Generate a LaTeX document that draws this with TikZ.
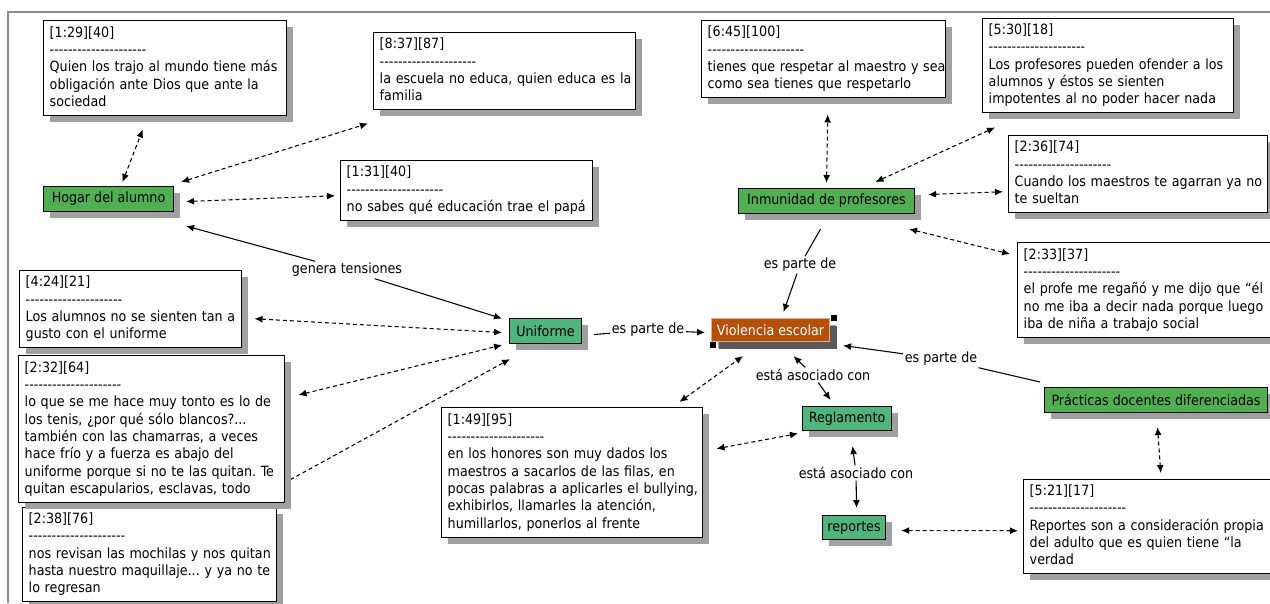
\documentclass[tikz,border=0pt]{standalone}
\usepackage{fontspec}
\newfontfamily\mapfont{DejaVu Sans Condensed}
\usetikzlibrary{arrows.meta,shadows,calc}
\frenchspacing

\newdimen\pxu \pxu=0.75pt
\definecolor{conceptgreen}{RGB}{80,175,80}
\definecolor{linkgreen}{RGB}{80,180,125}
\definecolor{violorange}{RGB}{180,80,10}
\definecolor{shadowgray}{RGB}{160,160,160}
\definecolor{darkshadow}{RGB}{90,90,90}
\definecolor{framegray}{RGB}{140,140,140}

% separator line under each quotation reference
\newcommand\qdash{-\kern0pt}
\newcommand\qrule{\qdash\qdash\qdash\qdash\qdash\qdash\qdash\qdash\qdash\qdash\qdash\qdash\qdash\qdash\qdash\qdash\qdash\qdash\qdash\qdash\qdash}
\newcommand\quotelines[1]{\begin{tabular}{@{}l@{}}#1\end{tabular}}

\pgfdeclarelayer{links}
\pgfsetlayers{links,main}

\tikzset{
  every node/.style={font=\mapfont\fontsize{10.6}{13}\selectfont},
  quote/.style={draw=black, line width=1.1pt, fill=white, anchor=north west,
    align=left, inner xsep=4.5pt, inner ysep=0pt,
    drop shadow={shadow xshift=4.5pt, shadow yshift=-4.5pt, fill=shadowgray, opacity=1}},
  concept/.style={draw=black, line width=0.8pt, anchor=north west, inner sep=0pt,
    drop shadow={shadow xshift=4.5pt, shadow yshift=-4.5pt, fill=shadowgray, opacity=1}},
  linkphrase/.style={inner sep=1.2pt},
  plainrel/.style={line width=0.8pt},
  rel/.style={line width=0.8pt, -{Latex[length=6pt,width=5.2pt]}},
  assoc/.style={line width=0.8pt, dash pattern=on 3pt off 2.25pt,
    {Latex[length=6pt,width=5.2pt]}-{Latex[length=6pt,width=5.2pt]}},
}

\begin{document}
\begin{tikzpicture}[x=0.75pt,y=-0.75pt]
\useasboundingbox (0,0) rectangle (1270,603);
\clip (0,0) rectangle (1270,603);

% window frame
\draw[framegray, line width=1.5pt] (8,603) -- (8,12) -- (1270,12);

% quotations
\node[quote, text width=173.25pt, minimum width=182.25pt, minimum height=71.25pt] (c129) at (43,20)
  {\quotelines{[1:29][40]\\ \qrule\\ Quien los trajo al mundo tiene más\\ obligación ante Dios que ante la\\ sociedad}};
\node[quote, text width=187.5pt, minimum width=196.5pt, minimum height=57.75pt] (c837) at (373,32)
  {\quotelines{[8:37][87]\\ \qrule\\ la escuela no educa, quien educa es la\\ familia}};
\node[quote, text width=180pt, minimum width=189pt, minimum height=45pt] (c131) at (340,160)
  {\quotelines{[1:31][40]\\ \qrule\\ no sabes qué educación trae el papá}};
\node[quote, text width=174pt, minimum width=183pt, minimum height=57.75pt] (c645) at (701,20)
  {\quotelines{[6:45][100]\\ \qrule\\ tienes que respetar al maestro y sea\\ como sea tienes que respetarlo}};
\node[quote, text width=179.25pt, minimum width=188.25pt, minimum height=70.5pt] (c530) at (982,18)
  {\quotelines{[5:30][18]\\ \qrule\\ Los profesores pueden ofender a los\\ alumnos y éstos se sienten\\ impotentes al no poder hacer nada}};
\node[quote, text width=185.25pt, minimum width=194.25pt, minimum height=57.75pt] (c236) at (1008,135)
  {\quotelines{[2:36][74]\\ \qrule\\ Cuando los maestros te agarran ya no\\ te sueltan}};
\node[quote, text width=186pt, minimum width=195pt, minimum height=71.25pt] (c233) at (1017,242)
  {\quotelines{[2:33][37]\\ \qrule\\ el profe me regañó y me dijo que “él\\ no me iba a decir nada porque luego\\ iba de niña a trabajo social}};
\node[quote, text width=187.5pt, minimum width=196.5pt, minimum height=70.5pt] (c521) at (1023,479)
  {\quotelines{[5:21][17]\\ \qrule\\ Reportes son a consideración propia\\ del adulto que es quien tiene “la\\ verdad}};
\node[quote, text width=186.75pt, minimum width=195.75pt, minimum height=97.5pt] (c149) at (441,407)
  {\quotelines{[1:49][95]\\ \qrule\\ en los honores son muy dados los\\ maestros a sacarlos de las filas, en\\ pocas palabras a aplicarles el bullying,\\ exhibirlos, llamarles la atención,\\ humillarlos, ponerlos al frente}};
\node[quote, text width=157.5pt, minimum width=166.5pt, minimum height=57.75pt] (c424) at (19,270)
  {\quotelines{[4:24][21]\\ \qrule\\ Los alumnos no se sienten tan a\\ gusto con el uniforme}};
\node[quote, text width=181.5pt, minimum width=190.5pt, minimum height=70.5pt] (c238) at (22,507)
  {\quotelines{[2:38][76]\\ \qrule\\ nos revisan las mochilas y nos quitan\\ hasta nuestro maquillaje... y ya no te\\ lo regresan}};
\node[quote, text width=190.5pt, minimum width=199.5pt, minimum height=110.25pt] (c232) at (18,355)
  {\quotelines{[2:32][64]\\ \qrule\\ lo que se me hace muy tonto es lo de\\ los tenis, ¿por qué sólo blancos?...\\ también con las chamarras, a veces\\ hace frío y a fuerza es abajo del\\ uniforme porque si no te las quitan. Te\\ quitan escapularios, esclavas, todo}};

% concepts
\node[concept, fill=conceptgreen, minimum width=97.5pt, minimum height=18.75pt] (hogar) at (43,186) {Hogar del alumno};
\node[concept, fill=linkgreen, minimum width=54pt, minimum height=18.75pt] (uniforme) at (509,318) {Uniforme};
\node[concept, fill=violorange, draw=violorange!45!white, text=white, minimum width=88.5pt, minimum height=17.25pt,
  drop shadow={shadow xshift=5.25pt, shadow yshift=-5.25pt, fill=darkshadow, opacity=1}] (violencia) at (711,318) {Violencia escolar};
\node[concept, fill=conceptgreen, minimum width=132pt, minimum height=18.75pt] (inmunidad) at (738,188) {Inmunidad de profesores};
\node[concept, fill=conceptgreen, minimum width=167.25pt, minimum height=18.75pt] (practicas) at (1044,387) {Prácticas docentes diferenciadas};
\node[concept, fill=linkgreen, minimum width=66.75pt, minimum height=18pt] (reglamento) at (802,406) {Reglamento};
\node[concept, fill=linkgreen, minimum width=47.25pt, minimum height=18pt] (reportes) at (822,515) {reportes};

% selection handles on the focused concept
\fill[black] ($(violencia.north east)+(1,-3)$) rectangle +(6,6);
\fill[black] ($(violencia.south west)+(-1,0)$) rectangle +(6,6);

% linking phrases
\node[linkphrase] (gt) at (347,270) {genera tensiones};
\node[linkphrase] (ep1) at (648,330) {es parte de};
\node[linkphrase] (ep2) at (800,265) {es parte de};
\node[linkphrase] (ep3) at (941,359) {es parte de};
\node[linkphrase] (ea1) at (813,375) {está asociado con};
\node[linkphrase] (ea2) at (856,473) {está asociado con};

\begin{pgfonlayer}{links}
% relations between concepts
\draw[rel] (gt) -- ($(hogar.south east)+(12,14)$);
\draw[rel] (gt) -- ($(uniforme.west)+(-7,-12.5)$);
\draw[plainrel] ($(uniforme.east)+(12,3.5)$) -- (ep1);
\draw[rel] (ep1) -- ($(violencia.west)+(-6,2.5)$);
\draw[plainrel] ($(inmunidad.south)+(-6,15)$) -- (ep2);
\draw[rel] (ep2) -- ($(violencia.north)+(13,-6)$);
\draw[plainrel] ($(practicas.north west)+(-4,-5)$) -- (ep3);
\draw[rel] (ep3) -- ($(violencia.east)+(13,15.5)$);
\draw[rel] (ea1) -- ($(violencia.south)+(23,14)$);
\draw[rel] (ea1) -- ($(reglamento.north)+(-16.5,-6)$);
\draw[rel] (ea2) -- ($(reglamento.south)+(5.5,15)$);
\draw[rel] (ea2) -- ($(reportes.north)+(2.5,-7)$);

% quotation links
\draw[assoc] ($(hogar.north)+(14,-4)$) -- ($(c129.south)+(-22.5,13)$);
\draw[assoc] ($(hogar.north east)+(7,-4)$) -- ($(c837.south west)+(-5,13)$);
\draw[assoc] ($(hogar.east)+(12,2.5)$) -- ($(c131.west)+(-5,5)$);
\draw[assoc] ($(c424.east)+(12,9.5)$) -- ($(uniforme.west)+(-7,1.5)$);
\draw[assoc] ($(c232.north east)+(13,40)$) -- ($(uniforme.south west)+(-7,1)$);
\draw[assoc] ($(c238.north east)+(-6,-17)$) -- ($(uniforme.south west)+(1,15)$);
\draw[assoc] ($(c149.north east)+(-24,-5)$) -- ($(violencia.south west)+(32,14)$);
\draw[assoc] ($(c149.east)+(13,-24)$) -- ($(reglamento.west)+(-4,15)$);
\draw[assoc] ($(reportes.east)+(15,3)$) -- ($(c521.west)+(-5,4)$);
\draw[assoc] ($(practicas.south)+(1.5,14)$) -- ($(c521.north)+(6,-6)$);
\draw[assoc] ($(inmunidad.north)+(0,-5)$) -- ($(c645.south)+(4,16)$);
\draw[assoc] ($(inmunidad.north)+(49,-6)$) -- ($(c530.south west)+(13,14)$);
\draw[assoc] ($(inmunidad.east)+(13,-6.5)$) -- ($(c236.west)+(-5,17.5)$);
\draw[assoc] ($(inmunidad.south east)+(-6,15)$) -- ($(c233.north west)+(-7,12)$);
\end{pgfonlayer}
\end{tikzpicture}
\end{document}
